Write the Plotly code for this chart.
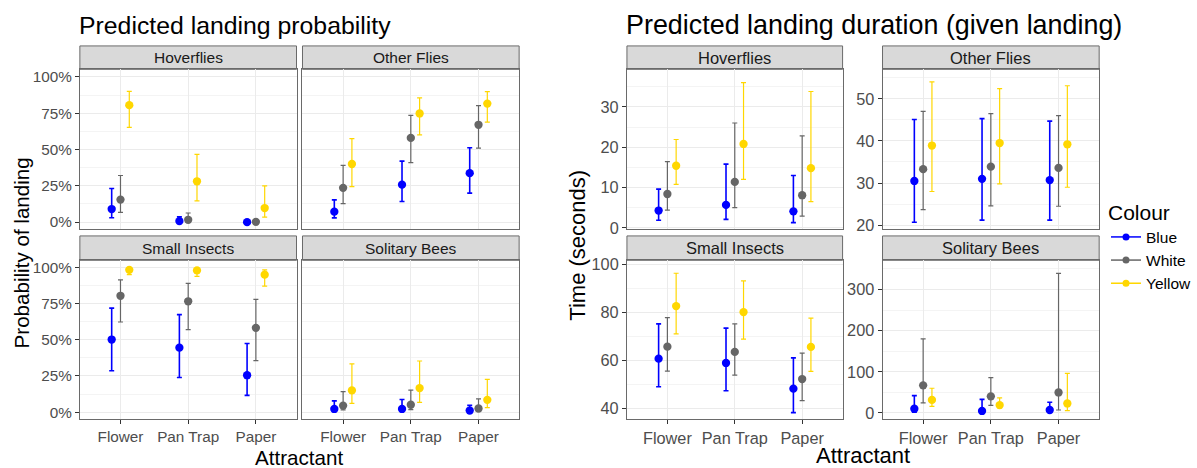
import numpy as np
import plotly.graph_objects as go

attractants = ["Flower", "Pan Trap", "Paper"]
colours = ["Blue", "White", "Yellow"]
colour_hex = {"Blue": "#0000FF", "White": "#666666", "Yellow": "#FFD700"}
groups = ["Hoverflies", "Other Flies", "Small Insects", "Solitary Bees"]

# ---- Predicted landing probability (rows: Blue, White, Yellow; cols: Flower, Pan Trap, Paper)
prob_est_hoverflies = [[0.090, 0.007, 0.000], [0.155, 0.016, 0.002], [0.805, 0.281, 0.097]]
prob_lo_hoverflies = [[0.030, 0.001, 0.000], [0.067, 0.002, 0.000], [0.652, 0.146, 0.034]]
prob_hi_hoverflies = [[0.232, 0.036, 0.004], [0.321, 0.063, 0.006], [0.900, 0.467, 0.249]]

prob_est_otherflies = [[0.072, 0.258, 0.337], [0.236, 0.580, 0.670], [0.400, 0.748, 0.816]]
prob_lo_otherflies = [[0.029, 0.142, 0.200], [0.128, 0.409, 0.510], [0.245, 0.600, 0.688]]
prob_hi_otherflies = [[0.153, 0.420, 0.512], [0.391, 0.735, 0.802], [0.575, 0.856, 0.899]]

prob_est_small = [[0.501, 0.445, 0.255], [0.803, 0.765, 0.582], [0.982, 0.978, 0.949]]
prob_lo_small = [[0.286, 0.239, 0.116], [0.622, 0.570, 0.356], [0.949, 0.937, 0.870]]
prob_hi_small = [[0.718, 0.673, 0.474], [0.913, 0.888, 0.778], [0.995, 0.993, 0.982]]

prob_est_bees = [[0.022, 0.022, 0.011], [0.045, 0.051, 0.025], [0.150, 0.166, 0.085]]
prob_lo_bees = [[0.004, 0.007, 0.002], [0.016, 0.018, 0.009], [0.060, 0.067, 0.031]]
prob_hi_bees = [[0.078, 0.087, 0.047], [0.141, 0.152, 0.092], [0.333, 0.353, 0.226]]

# ---- Predicted landing duration in seconds (given landing)
dur_est_hoverflies = [[4.3, 5.7, 4.1], [8.4, 11.4, 8.1], [15.4, 20.8, 14.8]]
dur_lo_hoverflies = [[1.9, 2.1, 1.3], [4.4, 5.0, 2.9], [10.8, 12.0, 6.5]]
dur_hi_hoverflies = [[9.6, 15.8, 13.0], [16.4, 26.0, 22.8], [21.9, 36.0, 33.8]]

dur_est_otherflies = [[30.5, 31.0, 30.7], [33.3, 33.9, 33.6], [38.9, 39.5, 39.2]]
dur_lo_otherflies = [[20.7, 21.2, 21.2], [23.7, 24.6, 24.5], [28.0, 29.8, 29.0]]
dur_hi_otherflies = [[45.1, 45.3, 44.7], [47.0, 46.5, 46.0], [54.0, 52.4, 53.1]]

dur_est_small = [[60.6, 58.8, 48.1], [65.6, 63.4, 52.1], [82.5, 80.0, 65.5]]
dur_lo_small = [[48.9, 47.2, 38.1], [55.4, 53.7, 43.1], [70.9, 68.7, 55.3]]
dur_hi_small = [[75.1, 73.3, 60.9], [77.7, 75.1, 62.9], [96.2, 93.0, 77.5]]

dur_est_bees = [[10.3, 4.8, 7.1], [67.0, 40.3, 49.8], [31.6, 19.0, 23.0]]
dur_lo_bees = [[2.0, 1.0, 1.5], [24.5, 18.2, 7.1], [15.9, 12.0, 5.7]]
dur_hi_bees = [[42.0, 33.0, 26.0], [180.0, 86.0, 339.0], [60.0, 36.4, 96.0]]

prob_tickvals = [0, 0.25, 0.5, 0.75, 1.0]
prob_ticktext = ["0%", "25%", "50%", "75%", "100%"]

# ---------------- layout geometry (pixels) ----------------
W, H = 1197, 468
FONT = "Liberation Sans, Arial, sans-serif"
col_px = {"L1": (80, 297), "L2": (303, 520), "R1": (628, 844), "R2": (884, 1101)}
row_px = {"top": (66, 230), "bot": (262, 425)}
strip_px = {"top": (42, 66), "bot": (237, 262)}
dodge = {"Blue": -0.13, "White": 0.0, "Yellow": 0.13}
bar_thickness = {"Blue": 1.6, "White": 1.2, "Yellow": 1.2}
LEFT_TICK, RIGHT_TICK = 15.3, 16.3
LEFT_STRIP, RIGHT_STRIP = 15.5, 16.5

def px_x(p):
    return p / W

def px_y(p):
    return 1 - p / H

panels = [
    # (col, row, name, est, lo, hi, yrange, tickvals, ticktext, minor, showy)
    ("L1", "top", "Hoverflies", prob_est_hoverflies, prob_lo_hoverflies, prob_hi_hoverflies,
     [-0.048, 1.052], prob_tickvals, prob_ticktext, [0.125, 0.375, 0.625, 0.875], True),
    ("L2", "top", "Other Flies", prob_est_otherflies, prob_lo_otherflies, prob_hi_otherflies,
     [-0.048, 1.052], prob_tickvals, prob_ticktext, [0.125, 0.375, 0.625, 0.875], False),
    ("L1", "bot", "Small Insects", prob_est_small, prob_lo_small, prob_hi_small,
     [-0.048, 1.048], prob_tickvals, prob_ticktext, [0.125, 0.375, 0.625, 0.875], True),
    ("L2", "bot", "Solitary Bees", prob_est_bees, prob_lo_bees, prob_hi_bees,
     [-0.048, 1.048], prob_tickvals, prob_ticktext, [0.125, 0.375, 0.625, 0.875], False),
    ("R1", "top", "Hoverflies", dur_est_hoverflies, dur_lo_hoverflies, dur_hi_hoverflies,
     [-0.3, 39.3], [0, 10, 20, 30], ["0", "10", "20", "30"], [5, 15, 25, 35], True),
    ("R2", "top", "Other Flies", dur_est_otherflies, dur_lo_otherflies, dur_hi_otherflies,
     [19.07, 57.0], [20, 30, 40, 50], ["20", "30", "40", "50"], [25, 35, 45, 55], True),
    ("R1", "bot", "Small Insects", dur_est_small, dur_lo_small, dur_hi_small,
     [35.4, 101.6], [40, 60, 80, 100], ["40", "60", "80", "100"], [50, 70, 90], True),
    ("R2", "bot", "Solitary Bees", dur_est_bees, dur_lo_bees, dur_hi_bees,
     [-15, 371], [0, 100, 200, 300], ["0", "100", "200", "300"], [50, 150, 250, 350], True),
]

fig = go.Figure()
layout = {}
shapes = []
annotations = []
border = "#6A6A6A"

for i, (col, row, name, est, lo, hi, yr, tv, tt, minor, showy) in enumerate(panels):
    n = i + 1
    xa = "x" if n == 1 else f"x{n}"
    ya = "y" if n == 1 else f"y{n}"
    xkey = "xaxis" if n == 1 else f"xaxis{n}"
    ykey = "yaxis" if n == 1 else f"yaxis{n}"
    is_right = col.startswith("R")
    tick_font = dict(family=FONT, size=RIGHT_TICK if is_right else LEFT_TICK, color="#4D4D4D")
    x0, x1 = col_px[col]
    yt, yb = row_px[row]
    layout[xkey] = dict(
        domain=[px_x(x0), px_x(x1)], anchor=ya, range=[0.4, 3.6],
        tickvals=[1, 2, 3], ticktext=attractants,
        showticklabels=(row == "bot"), ticks="outside" if row == "bot" else "",
        ticklen=4, tickcolor="#333333", tickfont=tick_font,
        showgrid=True, gridcolor="#EBEBEB", gridwidth=1.1, zeroline=False,
        showline=True, mirror=True, linecolor=border, linewidth=1,
    )
    layout[ykey] = dict(
        domain=[px_y(yb), px_y(yt)], anchor=xa, range=yr,
        tickvals=tv, ticktext=tt, showticklabels=showy,
        ticks="outside" if showy else "", ticklen=4, tickcolor="#333333",
        tickfont=tick_font, showgrid=True, gridcolor="#EBEBEB", gridwidth=1.1,
        zeroline=False, showline=True, mirror=True, linecolor=border, linewidth=1,
        minor=dict(tickvals=minor, showgrid=True, gridcolor="#F4F4F4", gridwidth=0.6, ticks=""),
    )
    est_a = np.array(est)
    lo_a = np.array(lo)
    hi_a = np.array(hi)
    for ci, c in enumerate(colours):
        xs = np.arange(1, 4) + dodge[c]
        fig.add_trace(go.Scatter(
            x=xs, y=est_a[ci], mode="markers", xaxis=xa, yaxis=ya,
            marker=dict(color=colour_hex[c], size=8.3),
            error_y=dict(type="data", symmetric=False,
                         array=hi_a[ci] - est_a[ci], arrayminus=est_a[ci] - lo_a[ci],
                         color=colour_hex[c], thickness=bar_thickness[c], width=2.5),
            showlegend=False, name=c, legendgroup=c,
        ))
    # strip
    st, sb = strip_px[row]
    shapes.append(dict(type="rect", xref="paper", yref="paper",
                       x0=px_x(x0), x1=px_x(x1), y0=px_y(sb), y1=px_y(st),
                       fillcolor="#D9D9D9", line=dict(color=border, width=1), layer="below"))
    annotations.append(dict(text=name, xref="paper", yref="paper",
                            x=px_x((x0 + x1) / 2), y=px_y((st + sb) / 2),
                            xanchor="center", yanchor="middle", showarrow=False,
                            font=dict(family=FONT, size=RIGHT_STRIP if is_right else LEFT_STRIP,
                                      color="#1A1A1A")))

# legend entries
for c in colours:
    fig.add_trace(go.Scatter(
        x=[None], y=[None], mode="lines+markers", name=c, legendgroup=c,
        marker=dict(color=colour_hex[c], size=7), line=dict(color=colour_hex[c], width=1.5),
        showlegend=True,
    ))

# titles
annotations += [
    dict(text="Predicted landing probability", xref="paper", yref="paper",
         x=px_x(77), y=px_y(21), xanchor="left", yanchor="middle", showarrow=False,
         font=dict(family=FONT, size=24.8, color="#000000")),
    dict(text="Predicted landing duration (given landing)", xref="paper", yref="paper",
         x=px_x(625), y=px_y(21), xanchor="left", yanchor="middle", showarrow=False,
         font=dict(family=FONT, size=26.9, color="#000000")),
    dict(text="Probability of landing", xref="paper", yref="paper",
         x=px_x(22), y=px_y(254), xanchor="center", yanchor="middle", textangle=-90,
         showarrow=False, font=dict(family=FONT, size=20.6, color="#000000")),
    dict(text="Time (seconds)", xref="paper", yref="paper",
         x=px_x(579), y=px_y(247), xanchor="center", yanchor="middle", textangle=-90,
         showarrow=False, font=dict(family=FONT, size=22, color="#000000")),
    dict(text="Attractant", xref="paper", yref="paper",
         x=px_x(300), y=px_y(457), xanchor="center", yanchor="middle", yshift=-7,
         showarrow=False, font=dict(family=FONT, size=20.6, color="#000000")),
    dict(text="Attractant", xref="paper", yref="paper",
         x=px_x(864), y=px_y(457), xanchor="center", yanchor="middle", yshift=-5,
         showarrow=False, font=dict(family=FONT, size=22, color="#000000")),
]

fig.update_layout(
    width=W, height=H, margin=dict(l=0, r=0, t=0, b=0),
    paper_bgcolor="white", plot_bgcolor="white",
    font=dict(family=FONT, color="#000000"),
    shapes=shapes, annotations=annotations,
    legend=dict(x=px_x(1108), y=px_y(193), xanchor="left", yanchor="top",
                title=dict(text="Colour", font=dict(family=FONT, size=21, color="#000000")),
                font=dict(family=FONT, size=15.5, color="#000000"),
                bgcolor="rgba(0,0,0,0)", itemwidth=30, tracegroupgap=0),
    **layout,
)

fig.write_html("out.html", config={"displayModeBar": False},
               post_script="document.body.style.margin='0px';")
